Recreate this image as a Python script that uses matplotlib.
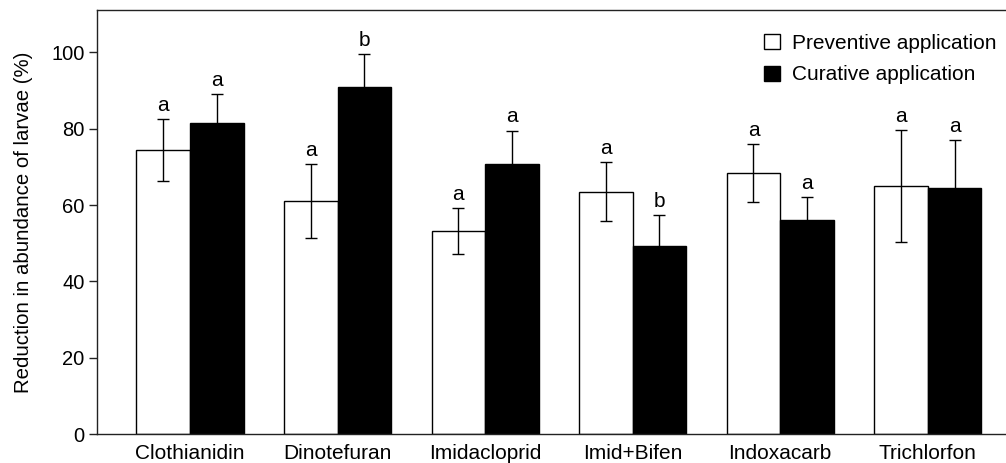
import matplotlib
matplotlib.use("Agg")
import matplotlib.pyplot as plt
from matplotlib.patches import Patch
import numpy as np

plt.rcParams['font.family'] = ['Liberation Sans', 'DejaVu Sans']

categories = ["Clothianidin", "Dinotefuran", "Imidacloprid", "Imid+Bifen", "Indoxacarb", "Trichlorfon"]
preventive = [74.5, 61.0, 53.2, 63.5, 68.3, 65.0]
preventive_err = [8.1, 9.7, 6.0, 7.8, 7.6, 14.6]
curative = [81.5, 90.8, 70.7, 49.3, 56.0, 64.4]
curative_err = [7.5, 8.7, 8.8, 8.0, 6.0, 12.6]
preventive_letters = ["a", "a", "a", "a", "a", "a"]
curative_letters = ["a", "b", "a", "b", "a", "a"]
series_names = ["Preventive application", "Curative application"]

fig = plt.figure(figsize=(10.06, 4.63), dpi=100)
ax = fig.add_axes([97/1006, 1-434/463, 1-97/1006, (434-10)/463])

x = np.arange(len(categories))
w = 0.363
spine_c = '#222222'

ax.bar(x - w/2, preventive, w, color='white', edgecolor='black', linewidth=1.0, zorder=2)
ax.bar(x + w/2, curative, w, color='black', edgecolor='black', linewidth=1.0, zorder=2)
ax.errorbar(x - w/2, preventive, yerr=preventive_err, fmt='none', ecolor='black',
            elinewidth=1.0, capsize=4.5, capthick=1.0, zorder=3)
ax.errorbar(x + w/2, curative, yerr=curative_err, fmt='none', ecolor='black',
            elinewidth=1.0, capsize=4.5, capthick=1.0, zorder=1)

for xi, v, e, t in zip(x - w/2, preventive, preventive_err, preventive_letters):
    ax.annotate(t, (xi, v + e), xytext=(0, 3), textcoords='offset points',
                ha='center', va='bottom', fontsize=15)
for xi, v, e, t in zip(x + w/2, curative, curative_err, curative_letters):
    ax.annotate(t, (xi, v + e), xytext=(0, 3), textcoords='offset points',
                ha='center', va='bottom', fontsize=15)

ax.set_xlim(-0.63, 5.53)
ax.set_ylim(0, 111.1)
ax.set_yticks([0, 20, 40, 60, 80, 100])
ax.set_xticks(x)
ax.set_xticklabels(categories, fontsize=15)
ax.tick_params(axis='y', labelsize=14.5, length=6, width=1.0, color=spine_c, pad=3)
ax.tick_params(axis='x', length=0, pad=7)
ax.set_ylabel("Reduction in abundance of larvae (%)", fontsize=14.7, labelpad=13)

for s in ['left', 'top', 'bottom']:
    ax.spines[s].set_color(spine_c)
    ax.spines[s].set_linewidth(1.0)
ax.spines['right'].set_visible(False)

handles = [Patch(facecolor='white', edgecolor='black', linewidth=1.0),
           Patch(facecolor='black', edgecolor='black', linewidth=1.0)]
leg = ax.legend(handles, series_names, loc='upper left',
                frameon=False, fontsize=15, handlelength=0.75, handleheight=0.75,
                handletextpad=0.6, labelspacing=0.6, borderpad=0, borderaxespad=0)
leg.set_bbox_to_anchor((764/1006, 1 - 34/463), transform=fig.transFigure)

fig.savefig("out.png", dpi=100)
